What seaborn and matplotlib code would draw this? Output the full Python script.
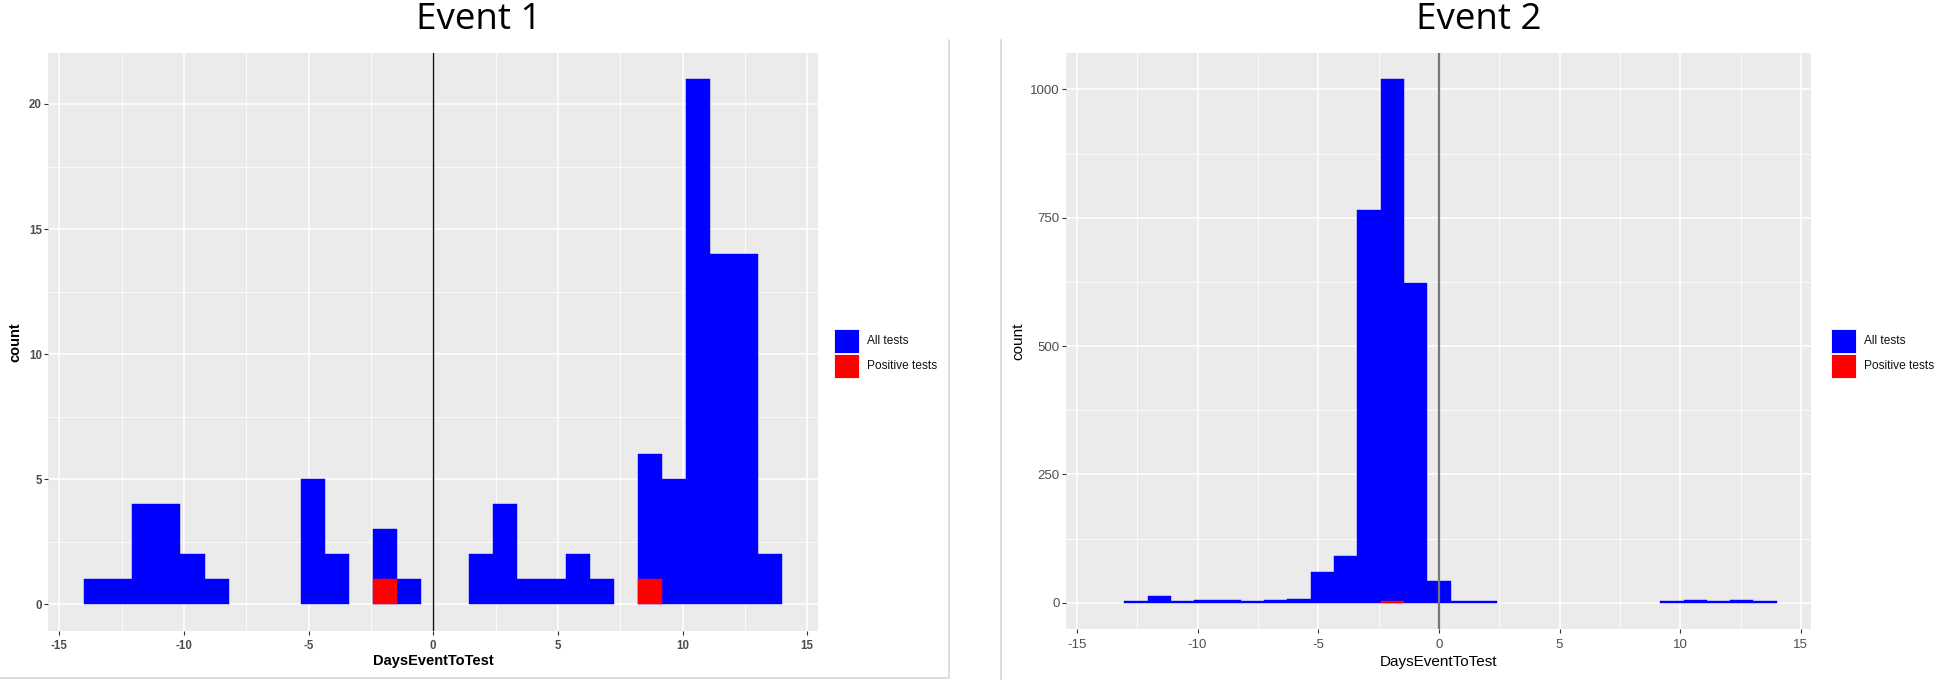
import numpy as np
import pandas as pd
import matplotlib
matplotlib.use("Agg")
import matplotlib.pyplot as plt
from matplotlib.patches import Rectangle
from matplotlib.lines import Line2D
import seaborn as sns

# ---------------- data (counts per histogram bin, 30 bins from -14 to ~15) ----------------
event1_all = [1, 1, 4, 4, 2, 1, 0, 0, 0, 5, 2, 0, 3, 1, 0,
              0, 2, 4, 1, 1, 2, 1, 0, 6, 5, 21, 14, 14, 2, 0]
event1_pos = [0, 0, 0, 0, 0, 0, 0, 0, 0, 0, 0, 0, 1, 0, 0,
              0, 0, 0, 0, 0, 0, 0, 0, 1, 0, 0, 0, 0, 0, 0]
event2_all = [0, 4, 13, 4, 6, 6, 4, 6, 8, 60, 91, 765, 1020, 622, 42,
              4, 4, 0, 0, 0, 0, 0, 0, 0, 4, 6, 4, 6, 4, 0]
event2_pos = [0, 0, 0, 0, 0, 0, 0, 0, 0, 0, 0, 0, 3, 0, 0,
              0, 0, 0, 0, 0, 0, 0, 0, 0, 0, 0, 0, 0, 0, 0]
titles = ["Event 1", "Event 2"]
legend_labels = ["All tests", "Positive tests"]
x_label = "DaysEventToTest"
y_label = "count"
x_ticks = [-15, -10, -5, 0, 5, 10, 15]
y_ticks_1 = [0, 5, 10, 15, 20]
y_ticks_2 = [0, 250, 500, 750, 1000]

# bin geometry (ggplot default 30 bins over range -14..14)
n_bins = 30
bin_width = 28 / 29
edges = -14 + bin_width * np.arange(n_bins + 1)
centers = (edges[:-1] + edges[1:]) / 2
edge_list = [float(e) for e in edges]

BLUE = "#0000FF"
RED = "#FF0000"

sns.set_style("darkgrid", {"axes.facecolor": "#EBEBEB", "grid.color": "white"})
plt.rcParams["font.family"] = ["Liberation Sans", "DejaVu Sans"]
plt.rcParams["axes.unicode_minus"] = False

W, H = 1950, 680
fig = plt.figure(figsize=(W / 100, H / 100), dpi=100)
fig.patch.set_facecolor("white")


def fx(px):
    return px / W


def fy(py):
    return (H - py) / H


panels = [
    dict(box=(48, 52.7, 817.7, 630.7), all=event1_all, pos=event1_pos,
         yticks=y_ticks_1, ylim=(-1.05, 22.05), yminor=[2.5, 7.5, 12.5, 17.5],
         bold=True, tick_fs=8.3, lab_fs=10.5, xlab_y=661, ylab_x=15,
         vcolor="#111111", vlw=1.0, leg_x=834, title_x=479),
    dict(box=(1066, 52.9, 1811, 628.9), all=event2_all, pos=event2_pos,
         yticks=y_ticks_2, ylim=(-51, 1071), yminor=[125, 375, 625, 875],
         bold=False, tick_fs=9.5, lab_fs=11, xlab_y=662, ylab_x=1018,
         vcolor="#777777", vlw=1.6, leg_x=1831, title_x=1479),
]

for i, p in enumerate(panels):
    x0, y0, x1, y1 = p["box"]
    ax = fig.add_axes([fx(x0), fy(y1), fx(x1 - x0), (y1 - y0) / H])
    ax.set_facecolor("#EBEBEB")
    df = pd.DataFrame({"day": centers, "all": p["all"], "pos": p["pos"]})
    sns.histplot(data=df, x="day", weights="all", bins=edge_list, ax=ax, color=BLUE,
                 alpha=1, edgecolor=BLUE, linewidth=0.3, stat="count", zorder=2)
    sns.histplot(data=df, x="day", weights="pos", bins=edge_list, ax=ax, color=RED,
                 alpha=1, edgecolor=RED, linewidth=0.3, stat="count", zorder=3)
    # empty bins draw nothing (as in ggplot)
    for patch in ax.patches:
        if patch.get_height() <= 0:
            patch.set_visible(False)
    ax.axvline(0, color=p["vcolor"], lw=p["vlw"], zorder=4)

    ax.set_xlim(-15.45, 15.42)
    ax.set_ylim(*p["ylim"])
    ax.set_xticks(x_ticks)
    ax.set_yticks(p["yticks"])
    ax.set_xticks([-12.5, -7.5, -2.5, 2.5, 7.5, 12.5], minor=True)
    ax.set_yticks(p["yminor"], minor=True)
    ax.grid(which="major", color="white", lw=1.1)
    ax.grid(which="minor", color="white", lw=0.55)
    ax.set_axisbelow(True)
    for s in ax.spines.values():
        s.set_visible(False)

    fw = "bold" if p["bold"] else "normal"
    ax.tick_params(which="major", axis="both", length=3, width=0.8,
                   color="#333333", labelcolor="#4D4D4D",
                   labelsize=p["tick_fs"], left=True, bottom=True)
    ax.tick_params(axis="y", pad=1.5)
    ax.tick_params(axis="x", pad=4)
    ax.tick_params(which="minor", length=0)
    for lab in ax.get_xticklabels() + ax.get_yticklabels():
        lab.set_fontweight(fw)

    ax.set_xlabel(x_label, fontsize=p["lab_fs"], fontweight=fw, color="black")
    ax.set_ylabel(y_label, fontsize=p["lab_fs"], fontweight=fw, color="black")
    ax.xaxis.set_label_coords(0.5, (y1 - p["xlab_y"]) / (y1 - y0))
    ax.xaxis.label.set_va("center")
    ax.yaxis.set_label_coords((p["ylab_x"] - x0) / (x1 - x0), 0.5)
    ax.yaxis.label.set_va("center")
    ax.yaxis.label.set_ha("center")

    # legend keys
    lx = p["leg_x"]
    for j, (col, lab) in enumerate(zip([BLUE, RED], legend_labels)):
        top = 329.3 + j * 25.0
        fig.add_artist(Rectangle((fx(lx), fy(top + 24.0)), fx(24.5), 24.0 / H,
                                 transform=fig.transFigure, facecolor=col,
                                 edgecolor="white", lw=0.6))
        fig.text(fx(lx + 33), fy(top + 12), lab, fontsize=8.6,
                 color="#111111", va="center", ha="left")

    # panel title
    fig.text(fx(p["title_x"]), fy(29.0), titles[i], fontsize=26.5,
             family=["Open Sans", "DejaVu Sans"], ha="center", va="baseline",
             color="black")

# light screenshot borders
for xs, ys in [([949, 949], [40, 678]), ([0, 949], [678, 678]),
               ([1001, 1001], [40, 680])]:
    fig.add_artist(Line2D([fx(v) for v in xs], [fy(v) for v in ys],
                          transform=fig.transFigure, color="#DDDDDD", lw=1.4))

fig.savefig("out.png", dpi=100, facecolor="white")
